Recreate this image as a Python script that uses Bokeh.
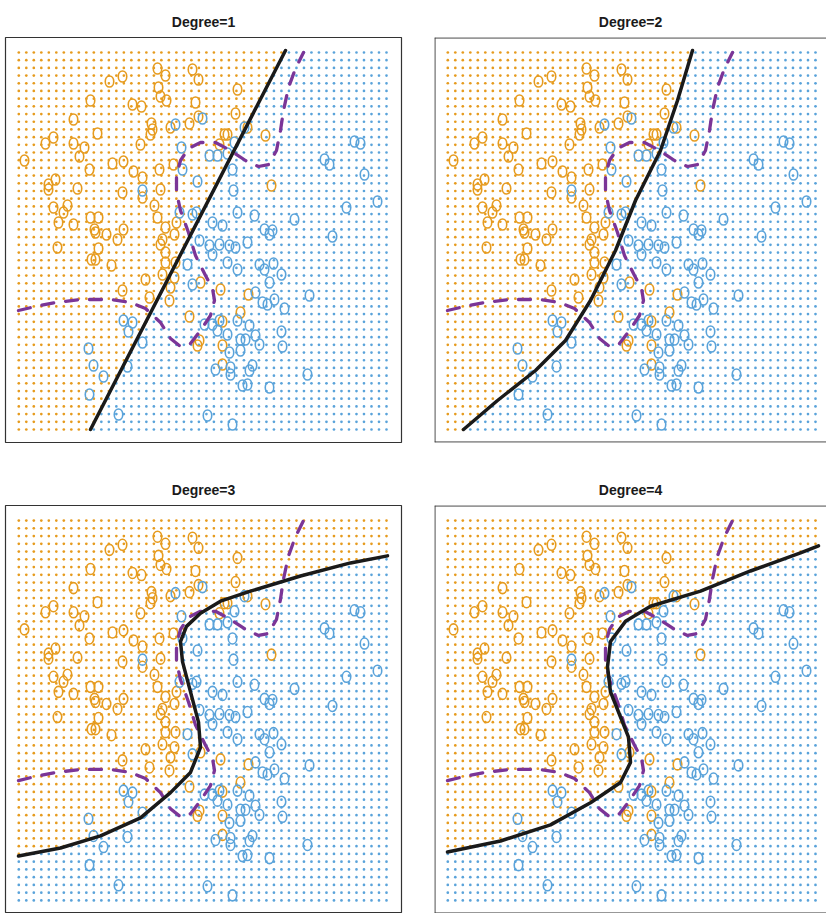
import numpy as np
from bokeh.plotting import figure
from bokeh.layouts import column, row
from bokeh.embed import file_html
from bokeh.resources import INLINE
from bokeh.models import Span

# ---------------- data (X1, X2 in plot units) ----------------
orange_x = [104, 117, 85, 127, 68, 92, 40, 48, 68, 79, 74, 19, 107, 118, 84, 128, 135,
            152, 160, 187, 193, 153, 155, 161, 136, 190, 232, 230, 193, 184, 165, 146, 145, 147,
            219, 222, 214, 242, 260, 154, 168,
            50, 43, 43, 72, 117, 48, 62, 58, 53, 68, 85, 93, 89, 90, 101, 112, 118, 52, 93, 86, 90,
            106, 117,
            137, 155, 137, 149, 152, 160, 171, 169, 157, 155, 160, 170, 160, 140, 157, 169, 165,
            144, 164, 195, 215, 243, 266,
            184, 235, 217, 194, 192, 217, 217]
orange_y = [361, 366, 342, 338, 323, 309, 299, 305, 299, 295, 286, 282, 279, 281, 273, 271, 298,
            374, 367, 373, 363, 355, 346, 342, 336, 340, 353, 329, 326, 319, 315, 319, 308, 313,
            308, 308, 298, 315, 307, 273, 278,
            263, 258, 253, 254, 250, 235, 237, 230, 220, 218, 225, 225, 213, 210, 208, 203, 213, 195, 194, 183, 183,
            177, 152,
            265, 253, 245, 237, 225, 215, 220, 208, 203, 198, 190, 180, 180, 163, 168, 165, 155,
            145, 142, 160, 153, 148, 257,
            126, 130, 121, 102, 97, 97, 78]

blue_x = [170, 197, 176, 204, 212, 222, 229, 239, 227, 177,
          349, 355, 319, 324, 359,
          137, 192, 228, 174, 187, 191, 232, 249, 207, 217, 259, 264, 267, 194, 204, 214, 224, 230,
          242, 207, 182, 222, 232, 254, 259, 268, 264, 187, 250, 257, 262,
          372, 341, 289, 327, 276, 304, 269, 279,
          118, 127, 123, 83, 88, 98, 122, 84, 113,
          137, 199, 207, 214, 212, 232, 244, 222, 235, 240, 250, 254, 224, 235, 210, 225, 225, 244,
          247, 242, 237, 264, 202, 227,
          276, 277, 302]
blue_y = [318, 324, 295, 287, 287, 289, 300, 315, 273, 273,
          301, 299, 283, 278, 268,
          252, 261, 252, 230, 228, 230, 230, 227, 220, 217, 213, 208, 212, 202, 197, 198, 197, 195,
          200, 188, 178, 180, 173, 178, 173, 179, 160, 158, 150, 140, 138,
          241, 235, 223, 206, 168, 147, 143, 134,
          122, 120, 111, 94, 77, 66, 76, 48, 28,
          100, 118, 118, 122, 112, 122, 117, 108, 103, 103, 107, 98, 90, 92, 73, 75, 68, 72,
          77, 58, 57, 55, 27, 18,
          111, 96, 68]

# Bayes decision boundary (purple, dashed)
bayes_x = [13, 30, 50, 75, 105, 125, 140, 155, 165, 175, 185, 195, 205, 209, 207, 200, 190,
           183, 175, 171, 171, 175, 183, 195, 210, 225, 240, 253, 263, 271, 275, 278, 283, 290, 298]
bayes_y = [132, 136, 140, 143, 143, 140, 134, 120, 104, 96, 99, 112, 127, 142, 154, 167, 187,
           210, 232, 250, 267, 282, 294, 300, 300, 292, 282, 276, 278, 292, 312, 332, 355, 374, 390]

# Fitted logistic-regression boundaries (black, solid)
deg1_x = [85, 280]
deg1_y = [13, 392]
deg2_x = [29, 63, 101, 131, 156, 181, 201, 226, 243, 258]
deg2_y = [13, 42, 72, 102, 142, 192, 242, 292, 342, 392]
deg3_x = [13, 55, 95, 135, 165, 185, 195, 193, 185, 177, 175, 181, 195, 215, 245, 295, 345, 382]
deg3_y = [57, 65, 77, 95, 120, 140, 165, 190, 220, 250, 270, 285, 298, 310, 320, 335, 348, 355]
deg4_x = [13, 66, 116, 156, 186, 196, 194, 184, 176, 173, 176, 191, 216, 266, 316, 366, 384]
deg4_y = [61, 72, 88, 110, 130, 150, 175, 200, 220, 245, 270, 290, 305, 320, 340, 358, 365]

titles = ["Degree=1", "Degree=2", "Degree=3", "Degree=4"]

ORANGE = "#E69B1E"
BLUE = "#5AA3DA"
PURPLE = "#7B3597"

# prediction grid (50 x 50)
gx, gy = np.meshgrid(np.linspace(13.3, 381, 50), np.linspace(13, 390, 50))
gx = gx.ravel()
gy = gy.ravel()


def classify(cx, cy):
    order = np.argsort(cy)
    xb = np.interp(gy, np.asarray(cy, float)[order], np.asarray(cx, float)[order],
                   left=-1e9, right=1e9)
    return gx < xb


def make(i, cx, cy):
    left = i in (0, 2)
    top = i in (0, 1)
    if left:
        xr = (0, 396)
        w, bl, br = 417, 5, 16
    else:
        xr = (0, 392)
        w, bl, br = 409, 17, 0
    if top:
        h, bt, bb = 452, 37, 10
    else:
        h, bt, bb = 461, 53, 0
    p = figure(width=w, height=h, x_range=xr, y_range=(0, 405),
               output_backend="svg", toolbar_location=None,
               x_axis_location=None, y_axis_location=None,
               min_border_left=bl, min_border_right=br,
               min_border_top=bt, min_border_bottom=bb,
               title=titles[i])
    p.grid.visible = False
    p.background_fill_color = "white"
    p.border_fill_color = "white"
    p.title.align = "center"
    p.title.text_font = "Liberation Sans"
    p.title.text_font_size = "14px"
    p.title.text_font_style = "bold"
    p.title.text_color = "#1a1a1a"
    p.title.vertical_align = "top"
    p.title.standoff = 12
    if left:
        p.outline_line_color = "#333333"
        p.outline_line_width = 1.2
    else:
        p.outline_line_color = None
        for loc, dim in ((0.4, "width"), (404.6, "width"), (0.4, "height")):
            p.add_layout(Span(location=loc, dimension=dim, line_color="#333333",
                              line_width=1.2))

    is_orange = classify(cx, cy)
    p.scatter(gx[is_orange], gy[is_orange], size=2.7, fill_color=ORANGE,
              line_color=None, marker="circle")
    p.scatter(gx[~is_orange], gy[~is_orange], size=2.7, fill_color=BLUE,
              line_color=None, marker="circle")

    p.ellipse(orange_x, orange_y, width=8.5, height=11, width_units="screen",
              height_units="screen", fill_color=None, line_color=ORANGE, line_width=1.6)
    p.ellipse(blue_x, blue_y, width=8.5, height=11, width_units="screen",
              height_units="screen", fill_color=None, line_color=BLUE, line_width=1.6)

    p.line(bayes_x, bayes_y, line_color=PURPLE, line_width=3.3, line_dash="12 12",
           line_cap="round")
    p.line(cx, cy, line_color="#1a1a1a", line_width=3.5, line_cap="round")
    return p


p1 = make(0, deg1_x, deg1_y)
p2 = make(1, deg2_x, deg2_y)
p3 = make(2, deg3_x, deg3_y)
p4 = make(3, deg4_x, deg4_y)

layout = column(row(p1, p2), row(p3, p4))
open("out.html", "w").write(file_html(layout, INLINE))
